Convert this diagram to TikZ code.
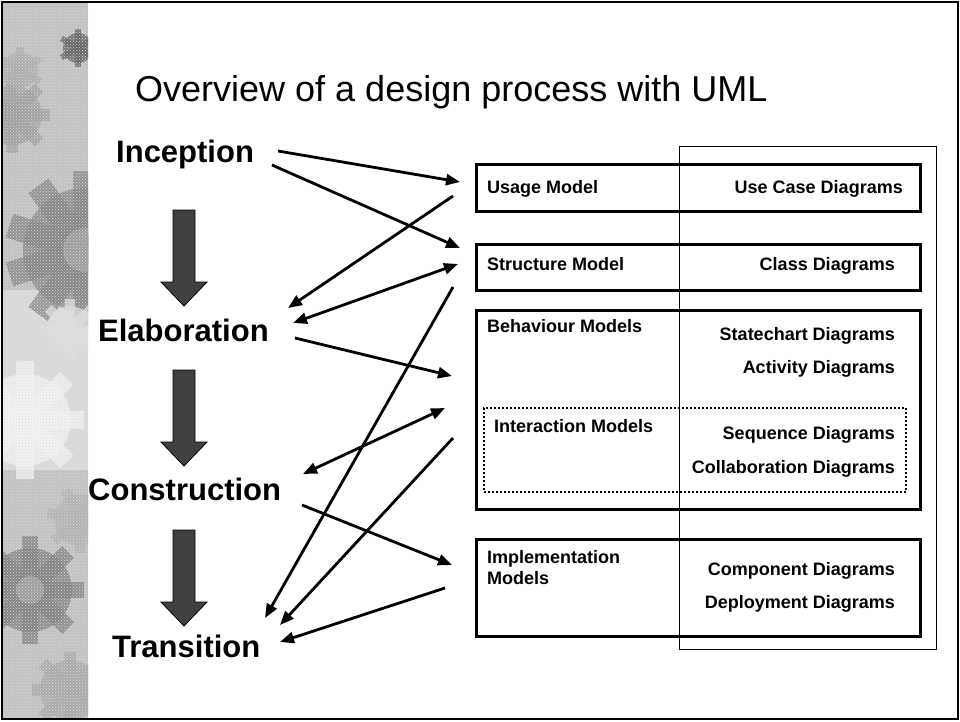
\documentclass[tikz,border=0pt]{standalone}
\usepackage{fontspec}
\setmainfont{Liberation Sans}
\usetikzlibrary{arrows.meta,patterns}

% a toothed wheel for the decorative side strip: x, y, radius, teeth, colour
\newcommand\sketchgear[5]{%
  \begin{scope}[shift={(#1,#2)}, opacity=0.75]
    \fill[#5] (0,0) circle[radius=#3pt];
    \foreach \k in {1,...,#4}{%
      \fill[#5,rotate=\k*360/#4] (-0.2*#3,0) rectangle (0.2*#3,1.28*#3);}
  \end{scope}}

\begin{document}
\begin{tikzpicture}[x=1pt,y=-1pt,
  phase/.style={anchor=base west, inner sep=0, font=\fontsize{31}{36}\selectfont\bfseries},
  lbl/.style={anchor=base west, inner sep=0, font=\fontsize{18}{21}\selectfont\bfseries},
  lblr/.style={lbl, anchor=base east},
  modelbox/.style={draw, line width=2.6pt, anchor=north west, inner sep=0},
  link/.style={line width=2.8pt, -{Triangle[length=14pt,width=11pt]}},
  both/.style={line width=2.8pt, {Triangle[length=14pt,width=11pt]}-{Triangle[length=14pt,width=11pt]}},
  phasearrow/.style={fill=black!75, draw=black, line width=0.8pt},
  downarrow/.pic={\filldraw[phasearrow] (-11,0) -- (11,0) -- (11,72) -- (23,72) -- (0,96) -- (-23,72) -- (-11,72) -- cycle;}
]
\useasboundingbox (0,0) rectangle (960,721);
\fill[white] (0,0) rectangle (960,721);

% decorative strip of grey gears on the left
\begin{scope}
  \clip (3,3) rectangle (88,718);
  \fill[black!24] (3,3) rectangle (88,718);
  \fill[black!14] (3,290) rectangle (88,470);
  \sketchgear{12}{115}{30}{8}{black!38}
  \sketchgear{85}{250}{62}{10}{black!48}
  \sketchgear{78}{48}{15}{6}{black!62}
  \sketchgear{20}{70}{18}{6}{black!32}
  \sketchgear{25}{420}{46}{8}{black!4}
  \sketchgear{70}{330}{24}{8}{black!12}
  \sketchgear{30}{590}{42}{8}{black!50}
  \sketchgear{80}{520}{26}{7}{black!30}
  \sketchgear{70}{690}{30}{8}{black!34}
  \fill[black!32, opacity=0.6] (85,250) circle[radius=22pt];
  \fill[black!30, opacity=0.6] (30,590) circle[radius=14pt];
  \fill[pattern=crosshatch dots, pattern color=white!85!black] (3,3) rectangle (88,718);
\end{scope}
\draw[line width=2.2pt] (2,2) rectangle (958,719);

% title
\node[anchor=base west, inner sep=0, font=\fontsize{36}{42}\selectfont] (title) at (135,101) {Overview of a design process with UML};

% phases
\node[phase] (inc) at (116,162) {Inception};
\node[phase] (ela) at (98,341) {Elaboration};
\node[phase] (con) at (88,500) {Construction};
\node[phase] (tra) at (112,657) {Transition};
\pic (p1) at (184,210) {downarrow};
\pic (p2) at (184,370) {downarrow};
\pic (p3) at (184,530) {downarrow};

% diagram column frame
\node[draw, line width=1pt, anchor=north west, inner sep=0, minimum width=257pt, minimum height=503pt] (col) at (679,146) {};

% model boxes
\node[modelbox, minimum width=444pt, minimum height=47pt] (usage) at (475,163) {};
\node[modelbox, minimum width=444pt, minimum height=46pt] (struct) at (475,243) {};
\node[modelbox, minimum width=444pt, minimum height=199pt] (behav) at (475,309) {};
\node[draw, line width=2pt, dash pattern=on 2pt off 2pt, anchor=north west, inner sep=0, minimum width=422pt, minimum height=84pt] (inter) at (483,407) {};
\node[modelbox, minimum width=444pt, minimum height=97pt] (impl) at (475,538) {};

% box texts
\node[lbl] (tusage) at (487,193) {Usage Model};
\node[lblr] (tuc) at (903,193) {Use Case Diagrams};
\node[lbl] (tstruct) at (487,270) {Structure Model};
\node[lblr] (tcd) at (895,270) {Class Diagrams};
\node[lbl] (tbehav) at (487,332) {Behaviour Models};
\node[lblr] (tsc) at (895,340) {Statechart Diagrams};
\node[lblr] (tad) at (895,373) {Activity Diagrams};
\node[lbl] (tinter) at (494,432) {Interaction Models};
\node[lblr] (tsd) at (895,439) {Sequence Diagrams};
\node[lblr] (tcol) at (895,473) {Collaboration Diagrams};
\node[lbl] (timpl) at (487,563) {Implementation};
\node[lbl] (timpl2) at (487,584) {Models};
\node[lblr] (tcomp) at (895,575) {Component Diagrams};
\node[lblr] (tdep) at (895,608) {Deployment Diagrams};

% connector ends
\coordinate (incA) at (278,151);
\coordinate (incB) at (272,165);
\coordinate (elaA) at (288,308);
\coordinate (elaB) at (293,323);
\coordinate (elaC) at (295,338);
\coordinate (conA) at (303,474);
\coordinate (conB) at (302,505);
\coordinate (traA) at (265,618);
\coordinate (traB) at (280,625);
\coordinate (traC) at (280,642);
\coordinate (usIn) at (460,182);
\coordinate (usOut) at (453,196);
\coordinate (stIn) at (460,248);
\coordinate (stIO) at (458,264);
\coordinate (stOut) at (453,287);
\coordinate (beIn) at (452,376);
\coordinate (beIO) at (445,408);
\coordinate (beOut) at (453,438);
\coordinate (imIn) at (452,565);
\coordinate (imOut) at (445,588);

% connectors
\draw[link] (incA) -- (usIn);
\draw[link] (incB) -- (stIn);
\draw[link] (usOut) -- (elaA);
\draw[both] (elaB) -- (stIO);
\draw[link] (elaC) -- (beIn);
\draw[link] (stOut) -- (traA);
\draw[both] (conA) -- (beIO);
\draw[link] (beOut) -- (traB);
\draw[link] (conB) -- (imIn);
\draw[link] (imOut) -- (traC);
\end{tikzpicture}
\end{document}
